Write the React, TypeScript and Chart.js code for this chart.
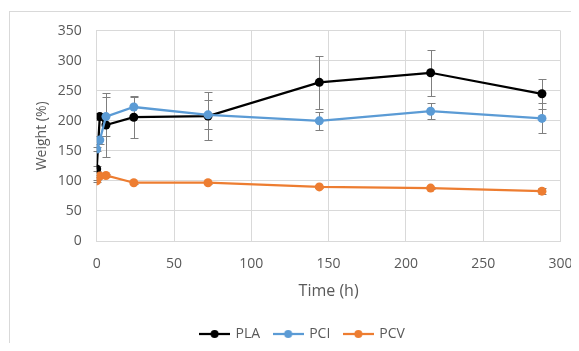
import { useEffect, useRef } from "react";
import { Chart, registerables } from "chart.js";

Chart.register(...registerables);

const times = [0, 2, 6, 24, 72, 144, 216, 288];
const plaWeight = [120, 207, 193, 206, 208, 264, 280, 245];
const plaError = [4, 6, 53, 35, 40, 44, 38, 25];
const pciWeight = [153, 168, 207, 223, 210, 200, 216, 204];
const pciError = [4, 6, 33, 17, 24, 15, 13, 25];
const pcvWeight = [100, 108, 109, 97, 97, 90, 88, 83];
const pcvError = [2, 2, 3, 2, 2, 2, 2, 5];
const seriesNames = ["PLA", "PCI", "PCV"];
const seriesColors = ["#000000", "#5B9BD5", "#ED7D31"];
const xTitle = "Time (h)";
const yTitle = "Weight (%)";

const FONT = "'Open Sans', sans-serif";
const TEXT = "#595959";
const GRID = "#d9d9d9";

function legendIcon(color: string) {
  const c = document.createElement("canvas");
  c.width = 31;
  c.height = 10;
  const g = c.getContext("2d")!;
  g.strokeStyle = color;
  g.lineWidth = 2.25;
  g.beginPath();
  g.moveTo(0, 5);
  g.lineTo(31, 5);
  g.stroke();
  g.fillStyle = color;
  g.beginPath();
  g.arc(15.5, 5, 4, 0, Math.PI * 2);
  g.fill();
  return c;
}

const errorBarPlugin = {
  id: "errorBars",
  beforeDatasetsDraw(chart: any) {
    const { ctx } = chart;
    const x = chart.scales.x;
    const y = chart.scales.y;
    ctx.save();
    ctx.strokeStyle = "#7f7f7f";
    ctx.lineWidth = 1;
    chart.data.datasets.forEach((ds: any) => {
      const errs: number[] = ds.errors || [];
      ds.data.forEach((pt: any, j: number) => {
        const e = errs[j] || 0;
        if (!e) return;
        const px = Math.round(x.getPixelForValue(pt.x)) + 0.5;
        const top = Math.round(y.getPixelForValue(pt.y + e)) + 0.5;
        const bot = Math.round(y.getPixelForValue(pt.y - e)) + 0.5;
        ctx.beginPath();
        ctx.moveTo(px, top);
        ctx.lineTo(px, bot);
        ctx.moveTo(px - 4, top);
        ctx.lineTo(px + 4, top);
        ctx.moveTo(px - 4, bot);
        ctx.lineTo(px + 4, bot);
        ctx.stroke();
      });
    });
    ctx.restore();
  },
};

const framePlugin = {
  id: "frame",
  afterLayout(chart: any) {
    if (chart.legend) chart.legend.left += 37;
  },
  beforeDraw(chart: any) {
    const { ctx } = chart;
    ctx.save();
    ctx.fillStyle = "#ffffff";
    ctx.fillRect(0, 0, chart.width, chart.height);
    ctx.strokeStyle = "#d9d9d9";
    ctx.lineWidth = 1;
    ctx.strokeRect(1.5, 3.5, chart.width + 20, chart.height + 20);
    ctx.restore();
  },
};

export default function App() {
  const ref = useRef<HTMLCanvasElement | null>(null);

  useEffect(() => {
    if (!ref.current) return;
    const weights = [plaWeight, pciWeight, pcvWeight];
    const errors = [plaError, pciError, pcvError];
    const orders = [2, 1, 0];
    const datasets = seriesNames.map((name, i) => ({
      label: name,
      data: times.map((t, j) => ({ x: t, y: weights[i][j] })),
      errors: errors[i],
      borderColor: seriesColors[i],
      backgroundColor: seriesColors[i],
      borderWidth: 2.25,
      pointRadius: 4.5,
      pointBorderWidth: 0,
      pointBackgroundColor: seriesColors[i],
      tension: 0,
      order: orders[i],
    }));

    const chart = new Chart(ref.current, {
      type: "line",
      data: { datasets } as any,
      plugins: [framePlugin, errorBarPlugin],
      options: {
        animation: false,
        responsive: false,
        layout: { padding: { left: 0, right: 18.5, top: 22.7, bottom: 0 } },
        plugins: {
          tooltip: { enabled: false },
          legend: {
            position: "bottom",
            labels: {
              usePointStyle: true,
              pointStyleWidth: 28,
              boxHeight: 10,
              padding: 14,
              color: TEXT,
              font: { family: FONT, size: 14 },
              sort: (a: any, b: any) => a.datasetIndex - b.datasetIndex,
              generateLabels: (chart: any) =>
                Chart.defaults.plugins.legend.labels
                  .generateLabels(chart)
                  .map((l: any) => ({
                    ...l,
                    pointStyle: legendIcon(seriesColors[l.datasetIndex]),
                  })),
            },
          },
        },
        scales: {
          x: {
            type: "linear",
            min: 0,
            max: 300,
            ticks: {
              stepSize: 50,
              padding: 0,
              color: TEXT,
              font: { family: FONT, size: 14 },
            },
            grid: {
              color: GRID,
              drawTicks: true,
              tickLength: 15,
              tickColor: "rgba(0,0,0,0)",
            },
            border: { color: GRID },
            title: {
              display: true,
              text: xTitle,
              color: TEXT,
              font: { family: FONT, size: 16 },
              padding: { top: 0, bottom: 12.4 },
            },
            afterFit: (s: any) => {
              s.height = 72;
            },
          },
          y: {
            min: 0,
            max: 350,
            ticks: {
              stepSize: 50,
              padding: 0,
              color: TEXT,
              font: { family: FONT, size: 14 },
            },
            grid: {
              color: GRID,
              drawTicks: true,
              tickLength: 15,
              tickColor: "rgba(0,0,0,0)",
            },
            border: { color: GRID },
            title: {
              display: true,
              text: yTitle,
              color: TEXT,
              font: { family: FONT, size: 14 },
              padding: { top: 25.6, bottom: 0 },
            },
            afterFit: (s: any) => {
              s.width = 88.7;
            },
          },
        },
      } as any,
    });
    return () => chart.destroy();
  }, []);

  return (
    <div style={{ width: 571, height: 343, marginBottom: -8, overflow: "hidden" }}>
      <canvas
        ref={ref}
        width={571}
        height={343}
        style={{ display: "block", width: 571, height: 343 }}
      />
    </div>
  );
}
